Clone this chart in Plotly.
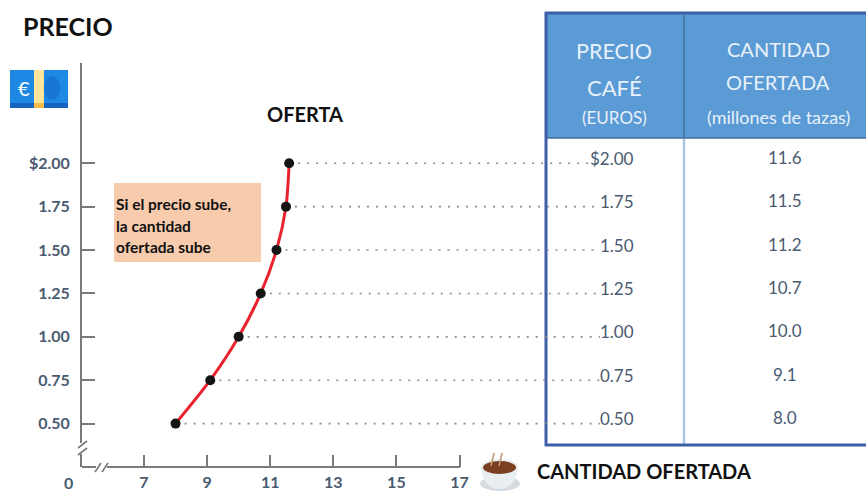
import plotly.graph_objects as go

prices = [0.50, 0.75, 1.00, 1.25, 1.50, 1.75, 2.00]
quantities = [8.0, 9.1, 10.0, 10.7, 11.2, 11.5, 11.6]
price_labels = ["0.50", "0.75", "1.00", "1.25", "1.50", "1.75", "$2.00"]
quantity_labels = ["8.0", "9.1", "10.0", "10.7", "11.2", "11.5", "11.6"]
x_ticks = [7, 9, 11, 13, 15, 17]
guide_end = 21.45

W, H = 866, 491
FONT = "Lato"
AX = "#7a7a7a"
LBL = "#4a5a70"


def px(x):
    return x / W


def py(y):
    return 1 - y / H


def rect(x0, y0, x1, y1, fill, layer="below"):
    return dict(type="rect", xref="paper", yref="paper", x0=px(x0), x1=px(x1), y0=py(y0), y1=py(y1),
                fillcolor=fill, line_width=0, layer=layer)


def line(x0, y0, x1, y1, color, width, layer="below"):
    return dict(type="line", xref="paper", yref="paper", x0=px(x0), x1=px(x1), y0=py(y0), y1=py(y1),
                line=dict(color=color, width=width), layer=layer)


def circle(x0, y0, x1, y1, fill, layer="above"):
    return dict(type="circle", xref="paper", yref="paper", x0=px(x0), x1=px(x1), y0=py(y0), y1=py(y1),
                fillcolor=fill, line_width=0, layer=layer)


def label(x, y, text, size, color="#111111", bold=False, align="center"):
    t = f"<b>{text}</b>" if bold else text
    return dict(xref="paper", yref="paper", x=px(x), y=py(y), text=t, showarrow=False, align=align,
                xanchor={"center": "center", "left": "left"}[align], yanchor="middle",
                font=dict(family=FONT, size=size, color=color))


fig = go.Figure()

for q, p in zip(quantities, prices):
    fig.add_trace(go.Scatter(x=[q, guide_end], y=[p, p], mode="lines", showlegend=False, hoverinfo="skip",
                             line=dict(color="#8a8a8a", width=1.6, dash="2px,7px")))

fig.add_trace(go.Scatter(x=quantities, y=prices, mode="lines", showlegend=False,
                         line=dict(color="#e8232f", width=3, shape="spline", smoothing=0.8)))
fig.add_trace(go.Scatter(x=quantities, y=prices, mode="markers", showlegend=False,
                         marker=dict(color="#151515", size=10)))

shapes = [
    # table
    rect(546, 14, 866, 138, "#5b9bd5"),
    line(684, 15, 684, 138, "#41719c", 1.5),
    line(684, 138, 684, 444, "#a9c6e8", 2.5),
    line(546, 138, 866, 138, "#41719c", 1.5),
    line(545, 13, 866, 13, "#3f5ea8", 3),
    line(546, 12, 546, 446, "#3f5ea8", 3),
    line(545, 445, 866, 445, "#3f5ea8", 3),
    # note box
    rect(114, 183, 261, 262, "#f8cbad"),
    # axes
    line(82, 467, 460, 467, AX, 2, "above"),
    rect(76, 443, 88, 454, "white", "above"),
    rect(96, 461, 107, 473, "white", "above"),
    line(78, 448, 87, 441, AX, 1.6, "above"),
    line(78, 455, 87, 448, AX, 1.6, "above"),
    line(95, 472, 101, 463, AX, 1.6, "above"),
    line(102, 472, 108, 463, AX, 1.6, "above"),
    # banknote icon
    rect(10, 70, 68, 108, "#1e88e5", "above"),
    rect(10, 103, 68, 108, "#1565c0", "above"),
    rect(34, 70, 44, 103, "#ffe49b", "above"),
    rect(34, 103, 44, 108, "#f9b949", "above"),
    circle(44, 76, 60, 100, "#1976d2"),
    # cup icon
    circle(480, 476, 520, 491, "#d5dbe0"),
    dict(type="path", xref="paper", yref="paper", layer="above", fillcolor="#e9eef1", line_width=0,
         path=f"M {px(481)} {py(468)} Q {px(484)} {py(489)} {px(499)} {py(489)} "
              f"Q {px(515)} {py(489)} {px(518)} {py(468)} Z"),
    circle(481, 459, 518, 476, "#e9eef1"),
    circle(483, 461, 516, 474, "#7b3f21"),
    line(494, 453, 491, 466, "#c9966f", 1.5, "above"),
    line(502, 453, 499, 466, "#c9966f", 1.5, "above"),
]

annotations = [
    label(68, 26, "PRECIO", 25, bold=True),
    label(305, 114, "OFERTA", 20, bold=True),
    label(535, 471, "CANTIDAD OFERTADA", 20, bold=True, align="left"),
    label(114, 204, "Si el precio sube,", 15.5, bold=True, align="left"),
    label(114, 226, "la cantidad", 15.5, bold=True, align="left"),
    label(114, 247, "ofertada sube", 15.5, bold=True, align="left"),
    label(68, 482, "0", 16, LBL, bold=True),
    label(614, 51, "PRECIO", 21.5, "#e8f1fa"),
    label(614, 87, "CAFÉ", 22, "#e8f1fa"),
    label(614, 117, "(EUROS)", 17, "#e8f1fa"),
    label(778, 49, "CANTIDAD", 20, "#e8f1fa"),
    label(778, 82, "OFERTADA", 20, "#e8f1fa"),
    label(778, 117, "(millones de tazas)", 18, "#e8f1fa"),
    label(24, 88, "€", 20, "white"),
]

for p, pl, ql in zip(prices, price_labels, quantity_labels):
    annotations.append(dict(xref="paper", yref="y", x=px(636), y=p, yshift=5, text=pl, showarrow=False,
                            xanchor="right", font=dict(family=FONT, size=17, color=LBL)))
    annotations.append(dict(xref="paper", yref="y", x=px(785), y=p, yshift=6, text=ql, showarrow=False,
                            xanchor="center", font=dict(family=FONT, size=17, color=LBL)))

fig.update_layout(
    width=W, height=H, autosize=False, margin=dict(l=0, r=0, t=0, b=0),
    paper_bgcolor="white", plot_bgcolor="rgba(0,0,0,0)", showlegend=False,
    shapes=shapes, annotations=annotations,
    xaxis=dict(domain=[px(82), 1], range=[7 - 62 / 31.55, 7 + 722 / 31.55], showgrid=False, zeroline=False,
               showline=False, tickmode="array", tickvals=x_ticks, ticktext=[str(t) for t in x_ticks],
               ticks="inside", ticklen=12, tickwidth=2, tickcolor=AX, ticklabelstandoff=4,
               tickfont=dict(family=FONT, size=16, color=LBL, weight="bold")),
    yaxis=dict(domain=[py(467), py(63)], range=[0.5 - 43.4 / 173.6, 0.5 + 360.7 / 173.6], showgrid=False,
               zeroline=False, showline=True, linecolor=AX, linewidth=2, tickmode="array",
               tickvals=prices, ticktext=price_labels, ticks="inside", ticklen=13, tickwidth=2,
               tickcolor=AX, ticklabelstandoff=7,
               tickfont=dict(family=FONT, size=16, color=LBL, weight="bold")),
)

fig.write_html("out.html", config={"displayModeBar": False}, post_script="document.body.style.margin='0';")
